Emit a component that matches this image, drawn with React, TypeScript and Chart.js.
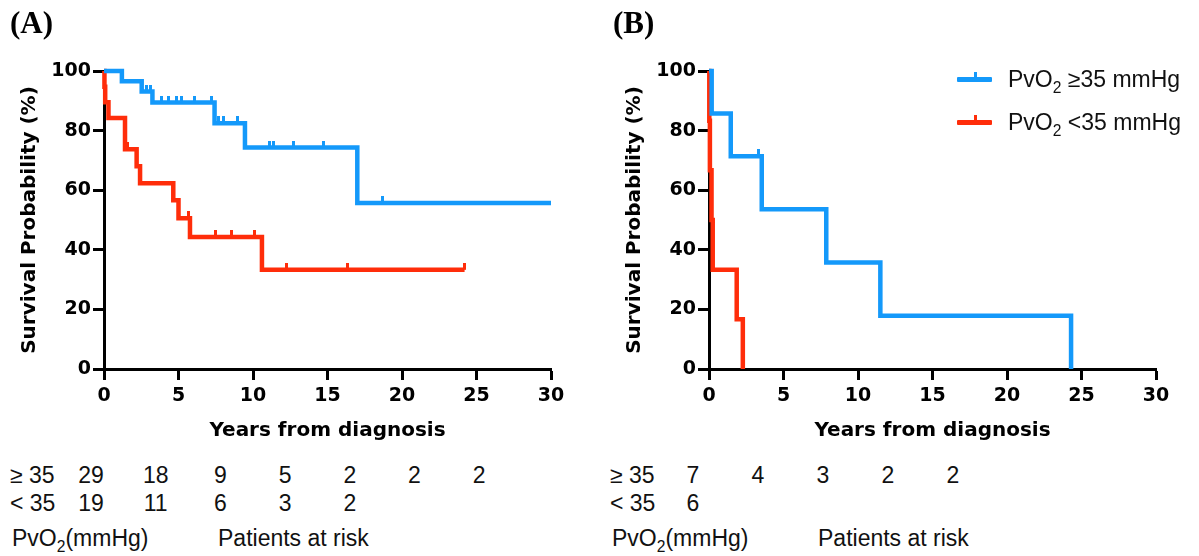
import React, { useEffect, useRef } from "react";
import { Chart, registerables } from "chart.js";

Chart.register(...registerables);

// ---------- data ----------
const xTickValues = [0, 5, 10, 15, 20, 25, 30];
const yTickValues = [0, 20, 40, 60, 80, 100];

// Panel A, PvO2 >= 35 mmHg
const aHighTimes = [0, 1.2, 2.53, 3.25, 7.42, 9.46, 17.0, 30];
const aHighSurv = [100, 96.6, 93.1, 89.4, 82.5, 74.3, 55.7, 55.7];
const aHighCensorTimes = [2.86, 3.09, 3.87, 4.32, 4.88, 5.21, 6.1, 7.23, 7.67, 8.0, 8.95, 11.1, 11.4, 12.7, 14.7, 18.7];
const aHighCensorSurv = [93.1, 93.1, 89.4, 89.4, 89.4, 89.4, 89.4, 89.4, 82.5, 82.5, 82.5, 74.3, 74.3, 74.3, 74.3, 55.7];

// Panel A, PvO2 < 35 mmHg
const aLowTimes = [0, 0.03, 0.08, 0.3, 1.41, 2.19, 2.42, 4.65, 5.0, 5.77, 10.6, 24.2];
const aLowSurv = [100, 94.7, 89.5, 84.2, 73.7, 68.0, 62.3, 56.6, 50.6, 44.3, 33.3, 33.3];
const aLowCensorTimes = [1.55, 5.66, 7.45, 8.57, 10.13, 12.25, 16.35, 24.2];
const aLowCensorSurv = [73.7, 50.6, 44.3, 44.3, 44.3, 33.3, 33.3, 33.3];

// Panel B, PvO2 >= 35 mmHg
const bHighTimes = [0, 0.18, 1.46, 3.54, 7.87, 11.5, 24.3];
const bHighSurv = [100, 85.7, 71.4, 53.6, 35.7, 17.9, 0];
const bHighCensorTimes = [3.3];
const bHighCensorSurv = [71.4];

// Panel B, PvO2 < 35 mmHg
const bLowTimes = [0, 0.02, 0.06, 0.17, 0.25, 1.86, 2.27];
const bLowSurv = [100, 83.3, 66.7, 50, 33.3, 16.7, 0];
const bLowCensorTimes = [0.12];
const bLowCensorSurv = [66.7];

// Patients at risk
const riskAHigh = [29, 18, 9, 5, 2, 2, 2];
const riskALow = [19, 11, 6, 3, 2];
const riskBHigh = [7, 4, 3, 2, 2];
const riskBLow = [6];

const xTitle = "Years from diagnosis";
const yTitle = "Survival Probability (%)";
const legendHigh = ["PvO", "2", " \u226535 mmHg"];
const legendLow = ["PvO", "2", " <35 mmHg"];
const rowHighLabel = "\u2265 35";
const rowLowLabel = "< 35";
const groupLabel = ["PvO", "2", "(mmHg)"];
const riskLabel = "Patients at risk";

// ---------- styles ----------
const BLUE = "#1499fa";
const RED = "#ff2d0a";
const AXIS_FONT = "'DejaVu Sans', 'Liberation Sans', Arial, sans-serif";
const TABLE_FONT = "'Liberation Sans Narrow', 'Liberation Sans', Arial, sans-serif";

function makeTickImage(color: string) {
  const c = document.createElement("canvas");
  c.width = 3;
  c.height = 14;
  const g = c.getContext("2d")!;
  g.fillStyle = color;
  g.fillRect(0, 0, 3, 7);
  return c;
}

type Series = {
  t: number[];
  s: number[];
  ct: number[];
  cs: number[];
  color: string;
};

function KMPanel({ left, width, padRight, series }: { left: number; width: number; padRight: number; series: Series[] }) {
  const ref = useRef<HTMLCanvasElement>(null);
  useEffect(() => {
    if (!ref.current) return;
    const datasets: any[] = [];
    series.forEach((s) => {
      datasets.push({
        data: s.ct.map((t, i) => ({ x: t, y: s.cs[i] })),
        showLine: false,
        pointStyle: makeTickImage(s.color),
        pointRadius: 3,
        pointHoverRadius: 3,
        borderWidth: 0,
        clip: false,
      });
    });
    series.forEach((s) => {
      datasets.push({
        data: s.t.map((t, i) => ({ x: t, y: s.s[i] })),
        stepped: true,
        borderColor: s.color,
        borderWidth: 4.5,
        borderCapStyle: "butt",
        borderJoinStyle: "miter",
        pointRadius: 0,
        fill: false,
        clip: false,
      });
    });
    const tickFont = { family: AXIS_FONT, weight: "bold" as const, size: 19 };
    const titleFont = { family: AXIS_FONT, weight: "bold" as const, size: 20, lineHeight: 1.2 };
    const chart = new Chart(ref.current, {
      type: "line",
      data: { datasets },
      options: {
        animation: false,
        responsive: false,
        maintainAspectRatio: false,
        events: [],
        layout: { padding: { left: 0, right: padRight, top: 71, bottom: 17 } },
        plugins: { legend: { display: false }, tooltip: { enabled: false } },
        scales: {
          x: {
            type: "linear",
            min: 0,
            max: 30,
            afterFit: (sc: any) => {
              sc.height = 74;
            },
            afterBuildTicks: (sc: any) => {
              sc.ticks = xTickValues.map((v) => ({ value: v }));
            },
            ticks: { color: "#000", font: tickFont, padding: 5, maxRotation: 0, autoSkip: false },
            grid: { drawOnChartArea: false, drawTicks: true, tickLength: 11, tickWidth: 3, tickColor: "#000" },
            border: { display: true, color: "#000", width: 3 },
            title: { display: true, text: xTitle, color: "#000", font: titleFont, padding: { top: 0, bottom: 0 } },
          },
          y: {
            type: "linear",
            min: 0,
            max: 100,
            afterFit: (sc: any) => {
              sc.width = 104;
            },
            afterBuildTicks: (sc: any) => {
              sc.ticks = yTickValues.map((v) => ({ value: v }));
            },
            ticks: { color: "#000", font: tickFont, padding: 2 },
            grid: { drawOnChartArea: false, drawTicks: true, tickLength: 11, tickWidth: 3, tickColor: "#000" },
            border: { display: true, color: "#000", width: 3 },
            title: { display: true, text: yTitle, color: "#000", font: titleFont, padding: { top: 17.5, bottom: 0 } },
          },
        },
      },
    });
    return () => chart.destroy();
  }, []);
  return <canvas ref={ref} width={width} height={460} style={{ position: "absolute", left, top: 0 }} />;
}

function Sub({ parts, size }: { parts: string[]; size: number }) {
  return (
    <>
      {parts[0]}
      <span style={{ fontSize: size * 0.68, position: "relative", top: size * 0.28 }}>{parts[1]}</span>
      {parts[2]}
    </>
  );
}

function RiskTable({ left, col0, step, high, low }: { left: number; col0: number; step: number; high: number[]; low: number[] }) {
  const fs = 23;
  const base: React.CSSProperties = {
    position: "absolute",
    fontFamily: TABLE_FONT,
    fontSize: fs,
    lineHeight: `${fs}px`,
    color: "#111",
    whiteSpace: "nowrap",
  };
  const num = (v: number, i: number, cy: number) => (
    <div key={`${cy}-${i}`} style={{ ...base, left: col0 + step * i - 30, width: 60, textAlign: "center", top: cy - fs / 2 }}>
      {v}
    </div>
  );
  return (
    <>
      <div style={{ ...base, left: left, top: 475 - fs / 2 }}>{rowHighLabel}</div>
      <div style={{ ...base, left: left, top: 503 - fs / 2 }}>{rowLowLabel}</div>
      {high.map((v, i) => num(v, i, 475))}
      {low.map((v, i) => num(v, i, 503))}
      <div style={{ ...base, left: left + 2, top: 538 - fs / 2 }}>
        <Sub parts={groupLabel} size={fs} />
      </div>
      <div style={{ ...base, left: left + 208, top: 538 - fs / 2 }}>{riskLabel}</div>
    </>
  );
}

function LegendItem({ color, y, parts }: { color: string; y: number; parts: string[] }) {
  const fs = 23;
  return (
    <>
      <div style={{ position: "absolute", left: 957, top: y - 2.5, width: 35, height: 5, background: color, borderRadius: 1 }} />
      <div style={{ position: "absolute", left: 973.5, top: y - 7, width: 3, height: 7, background: color }} />
      <div
        style={{
          position: "absolute",
          left: 1008,
          top: y - fs / 2,
          fontFamily: "'Liberation Sans', Arial, sans-serif",
          fontSize: fs,
          lineHeight: `${fs}px`,
          color: "#111",
          whiteSpace: "nowrap",
        }}
      >
        <Sub parts={parts} size={fs} />
      </div>
    </>
  );
}

export default function App() {
  const seriesA: Series[] = [
    { t: aHighTimes, s: aHighSurv, ct: aHighCensorTimes, cs: aHighCensorSurv, color: BLUE },
    { t: aLowTimes, s: aLowSurv, ct: aLowCensorTimes, cs: aLowCensorSurv, color: RED },
  ];
  const seriesB: Series[] = [
    { t: bHighTimes, s: bHighSurv, ct: bHighCensorTimes, cs: bHighCensorSurv, color: BLUE },
    { t: bLowTimes, s: bLowSurv, ct: bLowCensorTimes, cs: bLowCensorSurv, color: RED },
  ];
  const panelLabel: React.CSSProperties = {
    position: "absolute",
    top: 7,
    fontFamily: "'Liberation Serif', 'Times New Roman', serif",
    fontWeight: "bold",
    fontSize: 31,
    lineHeight: "31px",
    color: "#000",
  };
  return (
    <div style={{ position: "absolute", left: 0, top: 0, width: 1199, height: 556, background: "#fff", overflow: "hidden" }}>
      <KMPanel left={0} width={600} padRight={49} series={seriesA} />
      <KMPanel left={605} width={594} padRight={43} series={seriesB} />
      <div style={{ ...panelLabel, left: 10 }}>(A)</div>
      <div style={{ ...panelLabel, left: 613 }}>(B)</div>
      <LegendItem color={BLUE} y={79} parts={legendHigh} />
      <LegendItem color={RED} y={122} parts={legendLow} />
      <RiskTable left={10} col0={91} step={64.7} high={riskAHigh} low={riskALow} />
      <RiskTable left={610} col0={693} step={65} high={riskBHigh} low={riskBLow} />
    </div>
  );
}
